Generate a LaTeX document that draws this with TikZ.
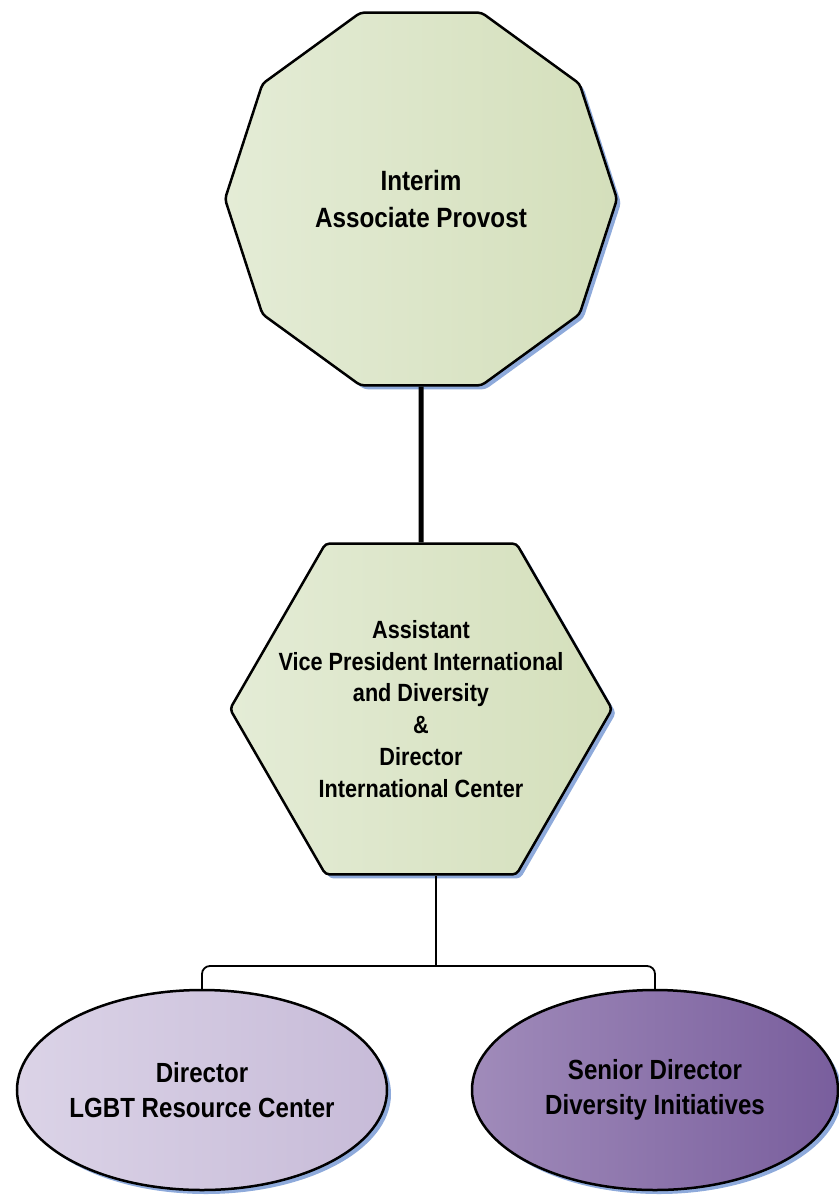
\documentclass[tikz,border=0pt]{standalone}
\usepackage{fontspec}
\setmainfont{Liberation Sans}[FakeStretch=0.87]
\usetikzlibrary{positioning,shapes.geometric,shadows}

\definecolor{greenlight}{HTML}{E4ECD6}
\definecolor{greendark}{HTML}{D4DFBB}
\definecolor{lilaclight}{HTML}{DBD3E7}
\definecolor{lilacdark}{HTML}{C7BBD8}
\definecolor{purplelight}{HTML}{A08BBA}
\definecolor{purpledark}{HTML}{795E9D}
\definecolor{shadowblue}{HTML}{8EAADB}

\begin{document}
\begin{tikzpicture}[x=1bp,y=-1bp,
  office/.style={draw, line width=2.5bp, rounded corners=4bp, inner sep=-60bp, align=center,
    drop shadow={shadow xshift=4bp, shadow yshift=-4bp, fill=shadowblue, opacity=1}},
  greenbox/.style={office, left color=greenlight, right color=greendark},
  reportline/.style={line width=1.8bp}]
  \useasboundingbox (0,0) rectangle (839,1196);

  \node[greenbox, regular polygon, regular polygon sides=10, minimum size=392bp,
    font=\bfseries\fontsize{28}{37}\selectfont] (provost) at (421,199) {Interim\\Associate Provost};
  \node[greenbox, regular polygon, regular polygon sides=6, minimum size=382bp,
    font=\bfseries\fontsize{25}{32}\selectfont] (avp) at (421,709)
    {Assistant\\Vice President International\\and Diversity\\\&\\Director\\International Center};
  \node[office, ellipse, minimum width=370bp, minimum height=200bp, left color=lilaclight, right color=lilacdark,
    font=\bfseries\fontsize{27.8}{35}\selectfont] (lgbt) at (202,1090) {Director\\LGBT Resource Center};
  \node[office, ellipse, minimum width=366bp, minimum height=200bp, left color=purplelight, right color=purpledark,
    font=\bfseries\fontsize{27.8}{35}\selectfont] (diversity) at (655,1090) {Senior Director\\Diversity Initiatives};

  \coordinate (bus) at (436,966);
  \draw[line width=5bp] (provost) -- (avp);
  \draw[reportline] (avp.south -| bus) -- (bus);
  \draw[reportline, rounded corners=8bp] (lgbt.north) |- (bus) -| (diversity.north);
\end{tikzpicture}
\end{document}
